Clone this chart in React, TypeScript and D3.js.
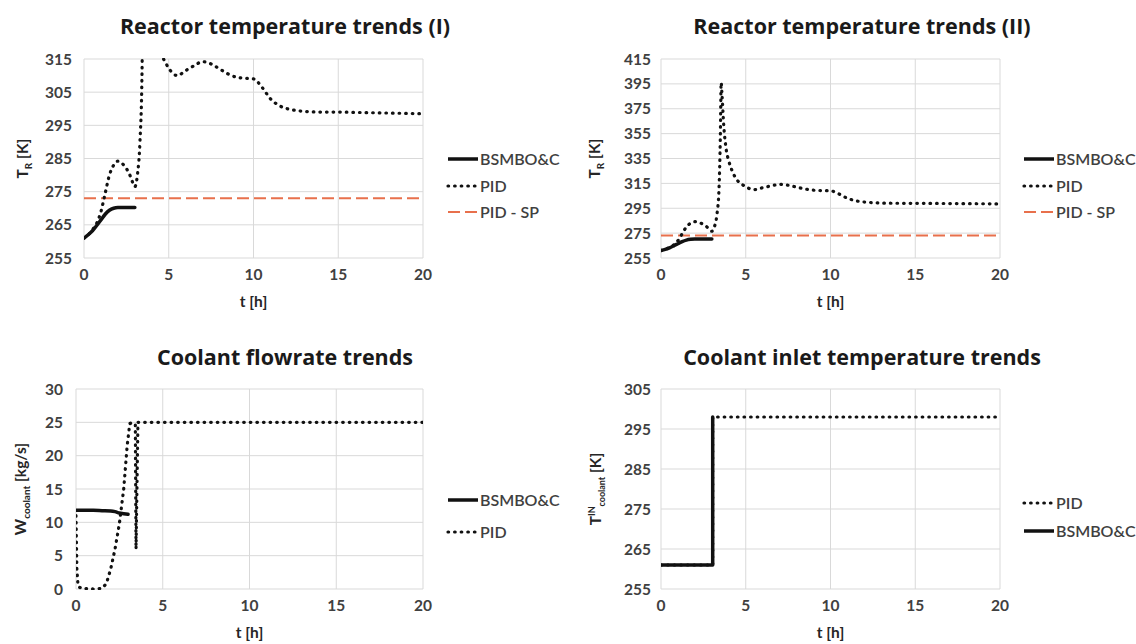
import React from "react";
import * as d3 from "d3";

// ---------- DATA ----------
const xTicks = [0, 5, 10, 15, 20];

const pidTRTime = [0, 0.25, 0.5, 0.75, 1.0, 1.25, 1.5, 1.75, 2.0, 2.25, 2.5, 2.75, 3.0, 3.15, 3.3, 3.42, 3.5, 3.55, 3.6, 3.7, 3.85, 4.0, 4.2, 4.5, 4.8, 5.1, 5.5, 6.0, 6.5, 7.0, 7.5, 8.0, 8.5, 9.0, 9.5, 10.0, 10.5, 11.0, 11.5, 12.0, 12.5, 13, 14, 15, 16, 17, 18, 19, 20];
const pidTRValue = [261, 262, 263.5, 265.5, 269, 274.5, 280, 283, 284.2, 283.5, 282, 279.5, 276.5, 280, 290, 310, 352, 396, 386, 362, 342, 333, 325, 317.5, 314, 311.5, 310, 311.5, 313, 314.2, 313.5, 312, 310.5, 309.5, 309.2, 309, 306.5, 303, 301, 300, 299.5, 299.2, 299, 299, 298.9, 298.8, 298.7, 298.6, 298.5];

const bsTRTime = [0, 0.25, 0.5, 0.75, 1, 1.25, 1.5, 1.75, 2, 2.5, 3];
const bsTRValue = [261, 262, 263.2, 264.8, 266.5, 268.2, 269.4, 270, 270.2, 270.2, 270.2];

const spTime = [0, 20];
const spValue = [273, 273];

const bsFlowTime = [0, 0.5, 1, 1.5, 2, 2.25, 2.5, 2.75, 3];
const bsFlowValue = [11.8, 11.8, 11.8, 11.75, 11.7, 11.6, 11.4, 11.3, 11.2];

const pidFlowTime = [0, 0.05, 0.12, 0.3, 1.0, 1.5, 1.75, 2.0, 2.25, 2.5, 2.75, 2.95, 3.1, 3.25, 3.42, 3.46, 3.57, 20];
const pidFlowValue = [11, 3, 0.4, 0.1, 0, 0.1, 0.8, 3, 6, 9.8, 15, 21.5, 24.8, 25, 24.6, 6, 25, 25];

const bsTinTime = [0, 3.05, 3.05];
const bsTinValue = [261, 261, 298];
const pidTinTime = [0, 3.05, 3.05, 20];
const pidTinValue = [261, 261, 298, 298];

const ticksTR1 = [255, 265, 275, 285, 295, 305, 315];
const ticksTR2 = [255, 275, 295, 315, 335, 355, 375, 395, 415];
const ticksFlow = [0, 5, 10, 15, 20, 25, 30];
const ticksTin = [255, 265, 275, 285, 295, 305];

// ---------- STYLES ----------
const FONT = "Lato, 'Open Sans', sans-serif";
const TITLE_FONT = "'Open Sans', Lato, sans-serif";
const GRID = "#d9d9d9";
const TXT = "#404040";
const RED = "#e8704c";

type Style = "solid" | "dot" | "dash";
interface Series { name: string; t: number[]; v: number[]; style: Style; curve?: boolean }

const strokeProps = (s: Style) => {
  if (s === "solid") return { stroke: "#111", strokeWidth: 3.5, strokeLinecap: "round" as const, strokeLinejoin: "round" as const };
  if (s === "dot") return { stroke: "#111", strokeWidth: 3.2, strokeDasharray: "0.6 6", strokeLinecap: "round" as const };
  return { stroke: RED, strokeWidth: 2, strokeDasharray: "12 5" };
};

interface PanelProps {
  id: string;
  title: string;
  titleX: number;
  titleY: number;
  x0: number; x1: number; y0: number; y1: number;
  yDomain: [number, number];
  yTicks: number[];
  series: Series[];
  legend: Series[];
  legendX: number;
  legendY: number[];
  yLabel: React.ReactNode;
  yLabelX: number;
  tickRight: number;
}

function Panel(p: PanelProps) {
  const x = d3.scaleLinear().domain([0, 20]).range([p.x0, p.x1]);
  const y = d3.scaleLinear().domain(p.yDomain).range([p.y1, p.y0]);
  const lineGen = (s: Series) => {
    const pts = s.t.map((t, i) => [t, s.v[i]] as [number, number]);
    return d3.line<[number, number]>().x(d => x(d[0])).y(d => y(d[1])).curve(s.curve ? d3.curveMonotoneX : d3.curveLinear)(pts) || "";
  };
  const cy = (p.y0 + p.y1) / 2;
  const cx = (p.x0 + p.x1) / 2;
  return (
    <g>
      <defs>
        <clipPath id={p.id}>
          <rect x={p.x0} y={p.y0 - 1} width={p.x1 - p.x0} height={p.y1 - p.y0 + 2} />
        </clipPath>
      </defs>
      <text x={p.titleX} y={p.titleY} textAnchor="middle" fontFamily={TITLE_FONT} fontWeight={700} fontSize={21.5} fill="#1a1a1a">{p.title}</text>
      {p.yTicks.map(t => (
        <line key={"h" + t} x1={p.x0} x2={p.x1} y1={y(t)} y2={y(t)} stroke={GRID} strokeWidth={1} />
      ))}
      {xTicks.map(t => (
        <line key={"v" + t} x1={x(t)} x2={x(t)} y1={p.y0} y2={p.y1} stroke={GRID} strokeWidth={1} />
      ))}
      {p.yTicks.map(t => (
        <text key={"yl" + t} x={p.tickRight} y={y(t) + 5.5} textAnchor="end" fontFamily={FONT} fontWeight={700} fontSize={15.5} fill={TXT}>{t}</text>
      ))}
      {xTicks.map(t => (
        <text key={"xl" + t} x={x(t)} y={p.y1 + 22} textAnchor="middle" fontFamily={FONT} fontWeight={700} fontSize={15.5} fill={TXT}>{t}</text>
      ))}
      <text x={cx} y={p.y1 + 49} textAnchor="middle" fontFamily={FONT} fontWeight={700} fontSize={15.5} fill="#262626">t [h]</text>
      <g transform={`translate(${p.yLabelX},${cy}) rotate(-90)`}>
        <text x={0} y={0} textAnchor="middle" fontFamily={FONT} fontWeight={700} fontSize={15.5} fill="#262626">{p.yLabel}</text>
      </g>
      <g clipPath={`url(#${p.id})`}>
        {p.series.map(s => (
          <path key={s.name} d={lineGen(s)} fill="none" {...strokeProps(s.style)} />
        ))}
      </g>
      {p.legend.map((s, i) => (
        <g key={"lg" + s.name}>
          <line x1={p.legendX} x2={p.legendX + 30} y1={p.legendY[i]} y2={p.legendY[i]} {...strokeProps(s.style)} strokeLinecap={s.style === "dot" ? "round" : "butt"} />
          <text x={p.legendX + 32} y={p.legendY[i] + 5.5} fontFamily={FONT} fontWeight={600} fontSize={16} fill={TXT}>{s.name}</text>
        </g>
      ))}
    </g>
  );
}

export default function App() {
  const bsTR: Series = { name: "BSMBO&C", t: bsTRTime, v: bsTRValue, style: "solid", curve: true };
  const pidTR: Series = { name: "PID", t: pidTRTime, v: pidTRValue, style: "dot", curve: true };
  const sp: Series = { name: "PID - SP", t: spTime, v: spValue, style: "dash" };
  const bsFlow: Series = { name: "BSMBO&C", t: bsFlowTime, v: bsFlowValue, style: "solid", curve: true };
  const pidFlow: Series = { name: "PID", t: pidFlowTime, v: pidFlowValue, style: "dot" };
  const bsTin: Series = { name: "BSMBO&C", t: bsTinTime, v: bsTinValue, style: "solid" };
  const pidTin: Series = { name: "PID", t: pidTinTime, v: pidTinValue, style: "dot" };

  const trLabel = (
    <>
      <tspan>T</tspan>
      <tspan fontSize={10} dy={4}>R</tspan>
      <tspan dy={-4}> [K]</tspan>
    </>
  );
  const wLabel = (
    <>
      <tspan>W</tspan>
      <tspan fontSize={10} dy={4}>coolant</tspan>
      <tspan dy={-4}> [kg/s]</tspan>
    </>
  );
  const tinLabel = (
    <>
      <tspan>T</tspan>
      <tspan fontSize={9} dy={-6}>IN</tspan>
      <tspan fontSize={9} dy={10}>coolant</tspan>
      <tspan dy={-4}> [K]</tspan>
    </>
  );

  return (
    <svg width={1136} height={644} style={{ position: "absolute", left: 0, top: 0, background: "#fff" }}>
      <rect x={0} y={0} width={1136} height={644} fill="#fff" />
      <Panel id="c1" title="Reactor temperature trends (I)" titleX={285} titleY={34}
        x0={84} x1={423} y0={59} y1={258} yDomain={[255, 315]} yTicks={ticksTR1}
        series={[sp, pidTR, bsTR]} legend={[bsTR, pidTR, sp]} legendX={448} legendY={[159, 186, 212]}
        yLabel={trLabel} yLabelX={28} tickRight={72} />
      <Panel id="c2" title="Reactor temperature trends (II)" titleX={862} titleY={34}
        x0={661} x1={1000} y0={59} y1={258} yDomain={[255, 415]} yTicks={ticksTR2}
        series={[sp, pidTR, bsTR]} legend={[bsTR, pidTR, sp]} legendX={1024} legendY={[159, 186, 212]}
        yLabel={trLabel} yLabelX={600} tickRight={651} />
      <Panel id="c3" title="Coolant flowrate trends" titleX={285} titleY={365}
        x0={76} x1={423} y0={389} y1={589} yDomain={[0, 30]} yTicks={ticksFlow}
        series={[pidFlow, bsFlow]} legend={[bsFlow, pidFlow]} legendX={448} legendY={[500, 532]}
        yLabel={wLabel} yLabelX={26} tickRight={63} />
      <Panel id="c4" title="Coolant inlet temperature trends" titleX={862} titleY={365}
        x0={661} x1={1000} y0={389} y1={589} yDomain={[255, 305]} yTicks={ticksTin}
        series={[pidTin, bsTin]} legend={[pidTin, bsTin]} legendX={1024} legendY={[503, 531]}
        yLabel={tinLabel} yLabelX={601} tickRight={651} />
    </svg>
  );
}
